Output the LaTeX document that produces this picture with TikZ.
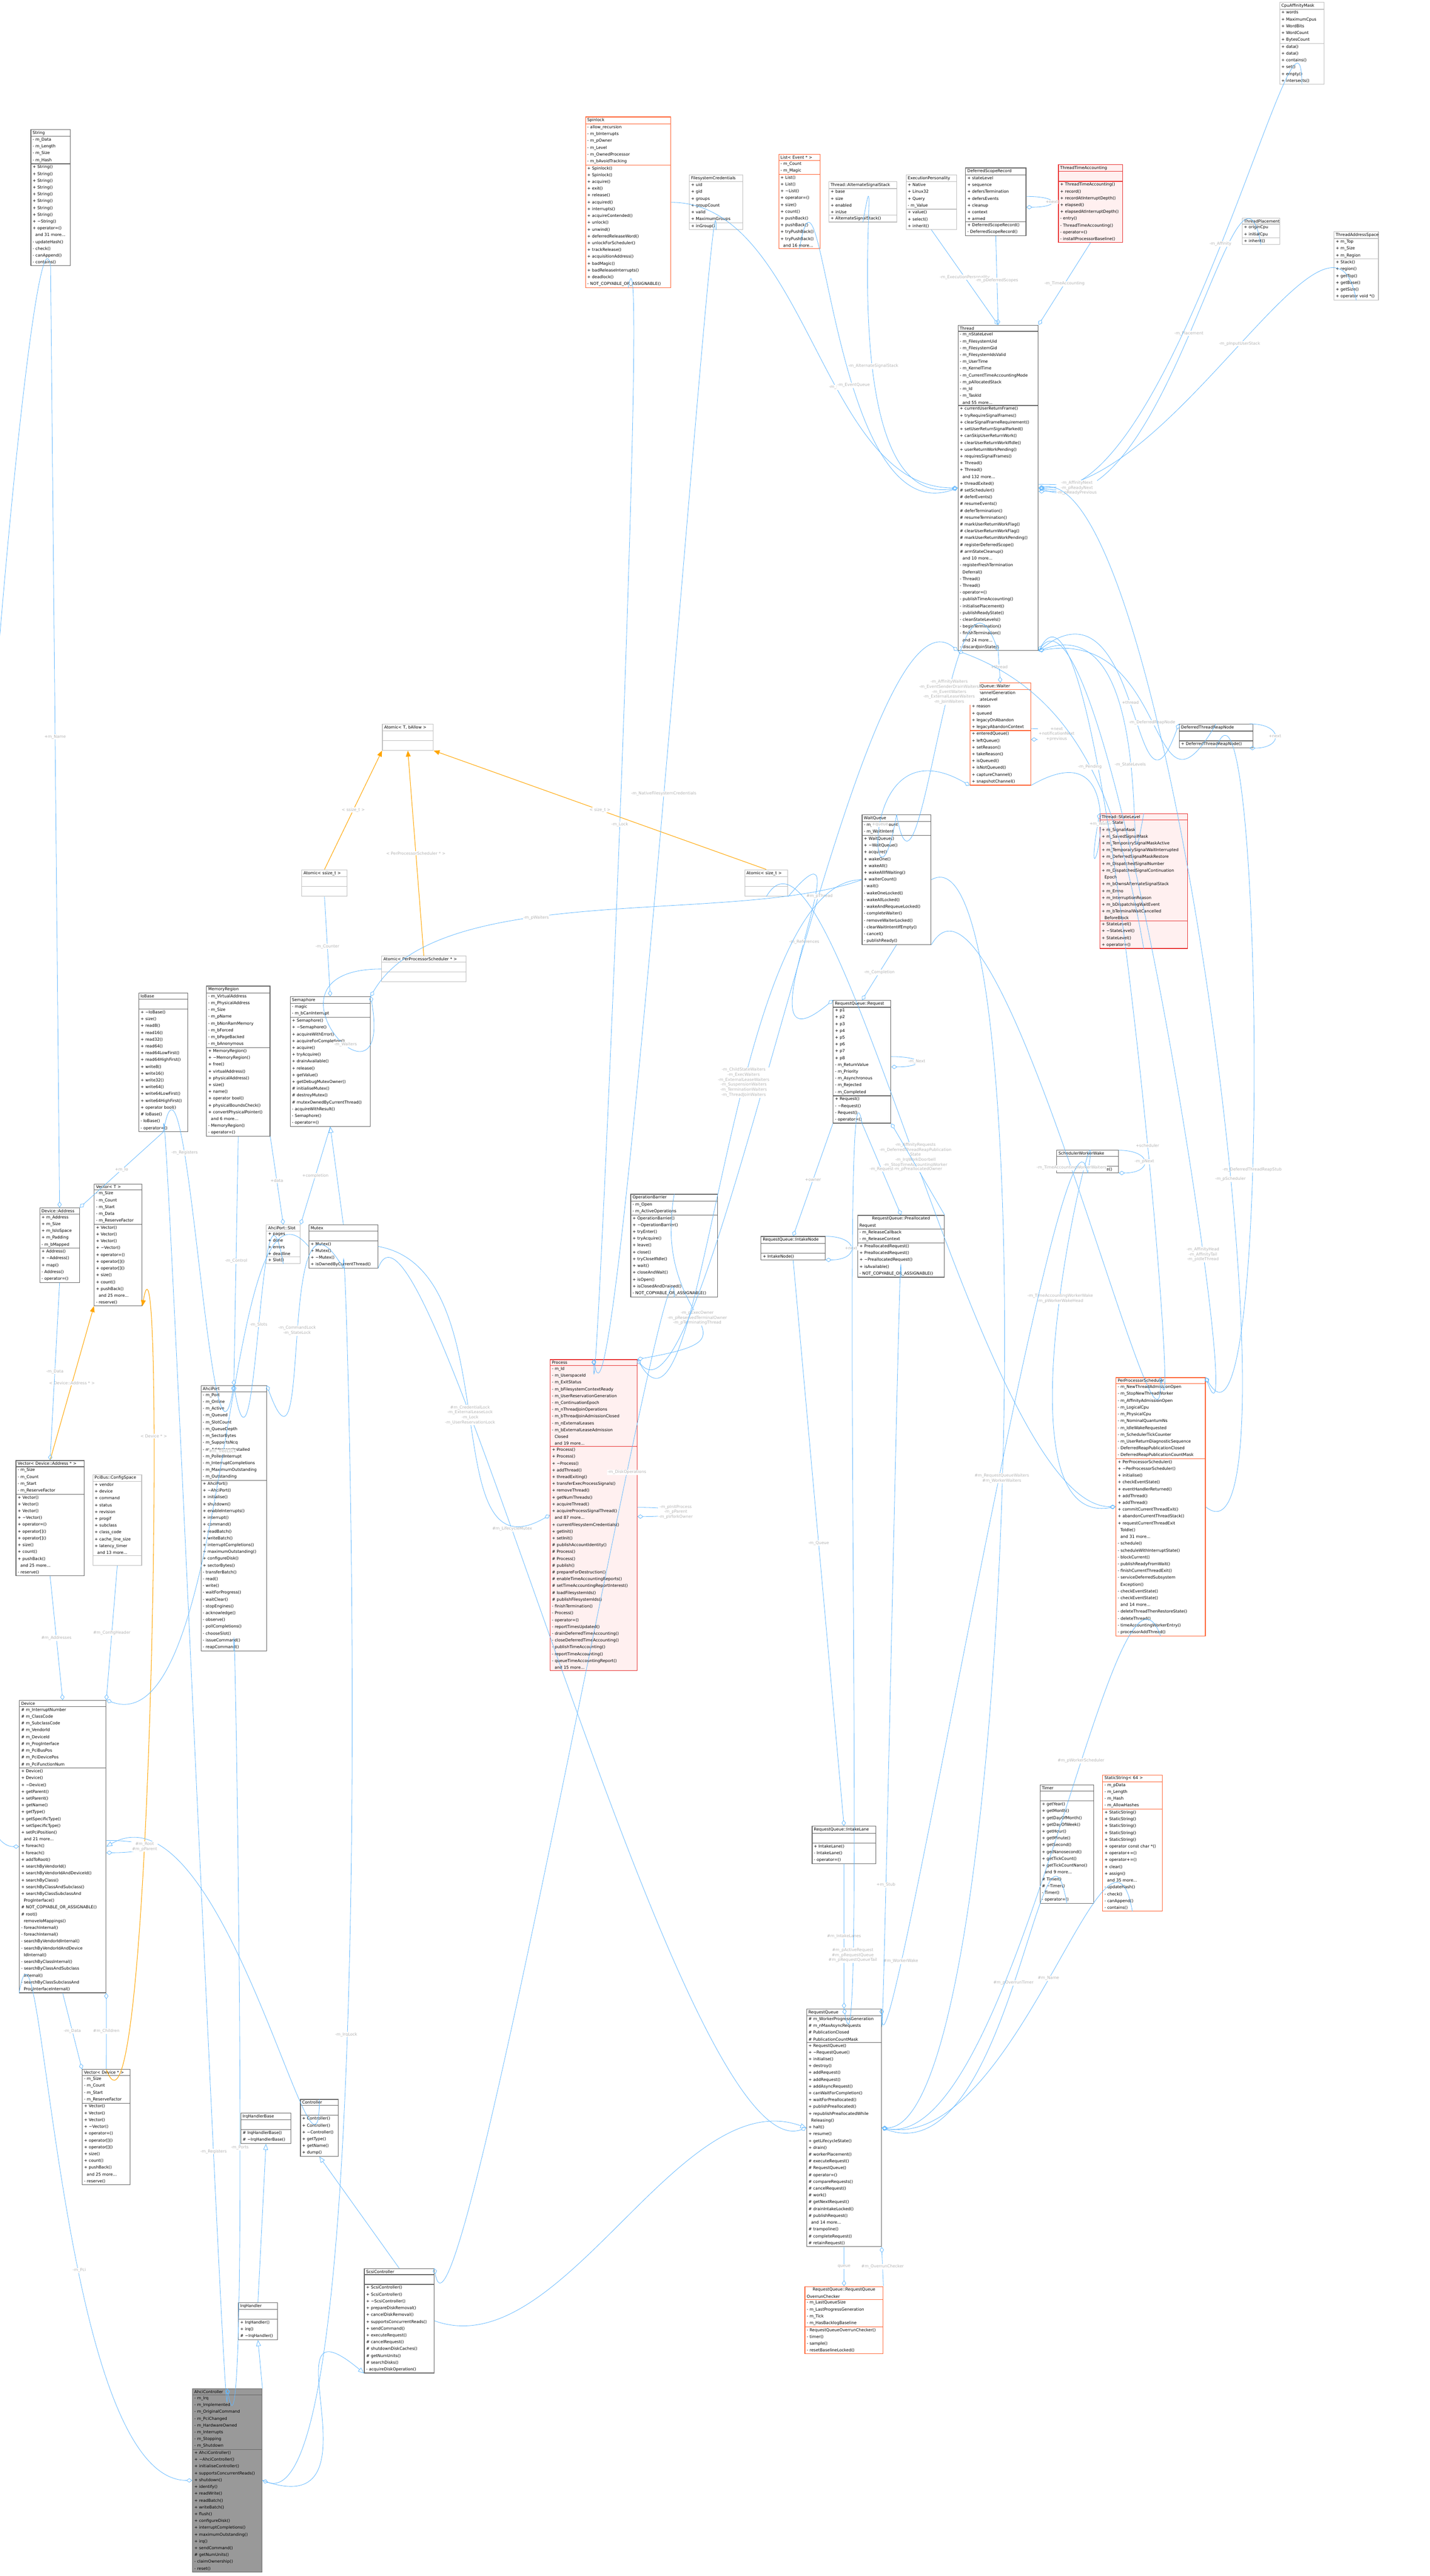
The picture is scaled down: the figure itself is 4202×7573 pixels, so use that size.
\documentclass[tikz,border=0pt]{standalone}
\usepackage{fontspec}
\setmainfont{DejaVu Sans}
\usetikzlibrary{shapes.multipart, arrows.meta, positioning, calc}
\definecolor{edgeblue}{HTML}{63B8FF}
\definecolor{inhorange}{HTML}{FFA500}
\definecolor{lblgrey}{HTML}{B4B4B4}
\definecolor{boxgrey}{HTML}{666666}
\definecolor{boxlight}{HTML}{BFBFBF}
\definecolor{boxred}{HTML}{E83030}
\definecolor{fillred}{HTML}{FFF0F0}
\definecolor{boxorange}{HTML}{FF6030}
\definecolor{fillcore}{HTML}{999999}
\tikzset{
  % class box
  cls/.style={
    rectangle split
    , rectangle split parts=3
    , draw=boxgrey
    , fill=white
    , line width=0.5pt
    , anchor=north west
    , inner xsep=1.5pt
    , inner ysep=1pt
    , align=left
    , text width=#1
    , font=\fontsize{3.4}{5.69}\selectfont
  },
  light/.style={draw=boxlight},
  hot/.style={draw=boxred, fill=fillred},
  warm/.style={draw=boxorange},
  core/.style={draw=boxgrey, fill=fillcore},
  % connectors
  bowlen/.initial=400,
  bow/.style 2 args={to path={.. controls ($(\tikztostart)+(#1:\pgfkeysvalueof{/tikz/bowlen})$) and ($(\tikztotarget)+(#2:\pgfkeysvalueof{/tikz/bowlen})$) .. (\tikztotarget) \tikztonodes}},
  agg/.style={draw=edgeblue, line width=0.35pt, -{Diamond[open, length=5pt, width=3.5pt]}},
  sub/.style={draw=edgeblue, line width=0.35pt, -{Triangle[open, length=5pt, width=4pt]}},
  tmpl/.style={draw=inhorange, line width=0.45pt, -{Triangle[length=5pt, width=4pt]}},
  lbl/.style={text=lblgrey, font=\fontsize{3.4}{4.2}\selectfont, align=center, fill=white, inner sep=0.5pt},
}
\begin{document}
\begin{tikzpicture}[x=0.01cm, y=-0.01cm]
  \useasboundingbox (0,0) rectangle (4202,7573);

  % --- top row ---
  \node[cls=1.05cm] (str) at (90,380) {\centering String
    \nodepart{two}- m\_Data\\- m\_Length\\- m\_Size\\- m\_Hash
    \nodepart{three}+ String()\\+ String()\\+ String()\\+ String()\\+ String()\\+ String()\\+ String()\\+ String()\\+ \textasciitilde String()\\+ operator=()\\\ \ and 31 more...\\- updateHash()\\- check()\\- canAppend()\\- contains()};
  \node[cls=2.4cm, warm] (spin) at (1720,343) {\centering Spinlock
    \nodepart{two}- allow\_recursion\\- m\_bInterrupts\\- m\_pOwner\\- m\_Level\\- m\_OwnedProcessor\\- m\_bAvoidTracking
    \nodepart{three}+ Spinlock()\\+ Spinlock()\\+ acquire()\\+ exit()\\+ release()\\+ acquired()\\+ interrupts()\\+ acquireContended()\\+ unlock()\\+ unwind()\\+ deferredReleaseWord()\\+ unlockForScheduler()\\+ trackRelease()\\+ acquisitionAddress()\\+ badMagic()\\+ badReleaseInterrupts()\\+ deadlock()\\- NOT\_COPYABLE\_OR\_ASSIGNABLE()};
  \node[cls=1.47cm, light] (fscred) at (2025,513) {\centering FilesystemCredentials
    \nodepart{two}+ uid\\+ gid\\+ groups\\+ groupCount\\+ valid\\+ MaximumGroups
    \nodepart{three}+ inGroup()};
  \node[cls=1.11cm, warm] (evlist) at (2288,453) {\centering List< Event * >
    \nodepart{two}- m\_Count\\- m\_Magic
    \nodepart{three}+ List()\\+ List()\\+ \textasciitilde List()\\+ operator=()\\+ size()\\+ count()\\+ pushBack()\\+ pushBack()\\+ tryPushBack()\\+ tryPushBack()\\\ \ and 16 more...};
  \node[cls=1.9cm, light] (altstack) at (2435,533) {\centering Thread::AlternateSignalStack
    \nodepart{two}+ base\\+ size\\+ enabled\\+ inUse
    \nodepart{three}+ AlternateSignalStack()};
  \node[cls=1.38cm, light] (persona) at (2662,513) {\centering ExecutionPersonality
    \nodepart{two}+ Native\\+ Linux32\\+ Query\\- m\_Value
    \nodepart{three}+ value()\\+ select()\\+ inherit()};
  \node[cls=1.67cm] (dscope) at (2837,493) {\centering DeferredScopeRecord
    \nodepart{two}+ stateLevel\\+ sequence\\+ defersTermination\\+ defersEvents\\+ cleanup\\+ context\\+ armed
    \nodepart{three}+ DeferredScopeRecord()\\- DeferredScopeRecord()};
  \node[cls=1.78cm, hot] (ttacct) at (3110,483) {\centering ThreadTimeAccounting
    \nodepart{two}\strut
    \nodepart{three}+ ThreadTimeAccounting()\\+ record()\\+ recordAtInterruptDepth()\\+ elapsed()\\+ elapsedAtInterruptDepth()\\- entry()\\- ThreadTimeAccounting()\\- operator=()\\- installProcessorBaseline()};
  \node[cls=1.2cm, light] (affmask) at (3760,6) {\centering CpuAffinityMask
    \nodepart{two}+ words\\+ MaximumCpus\\+ WordBits\\+ WordCount\\+ BytesCount
    \nodepart{three}+ data()\\+ data()\\+ contains()\\+ set()\\+ empty()\\+ intersects()};
  \node[cls=1.0cm, light] (place) at (3650,640) {\centering ThreadPlacement
    \nodepart{two}+ originCpu\\+ initialCpu
    \nodepart{three}+ inherit()};
  \node[cls=1.2cm, light] (space) at (3920,680) {\centering ThreadAddressSpace
    \nodepart{two}+ m\_Top\\+ m\_Size\\+ m\_Region
    \nodepart{three}+ Stack()\\+ region()\\+ getTop()\\+ getBase()\\+ getSize()\\+ operator void *()};

  % --- thread core ---
  \node[cls=2.25cm] (thr) at (2815,955) {\centering Thread
    \nodepart{two}- m\_nStateLevel\\- m\_FilesystemUid\\- m\_FilesystemGid\\- m\_FilesystemIdsValid\\- m\_UserTime\\- m\_KernelTime\\- m\_CurrentTimeAccountingMode\\- m\_pAllocatedStack\\- m\_Id\\- m\_TaskId\\\ \ and 55 more...
    \nodepart{three}+ currentUserReturnFrame()\\+ tryRequireSignalFrames()\\+ clearSignalFrameRequirement()\\+ setUserReturnSignalParked()\\+ canSkipUserReturnWork()\\+ clearUserReturnWorkIfIdle()\\+ userReturnWorkPending()\\+ requiresSignalFrames()\\+ Thread()\\+ Thread()\\\ \ and 132 more...\\+ threadExited()\\\# setScheduler()\\\# deferEvents()\\\# resumeEvents()\\\# deferTermination()\\\# resumeTermination()\\\# markUserReturnWorkFlag()\\\# clearUserReturnWorkFlag()\\\# markUserReturnWorkPending()\\\# registerDeferredScope()\\\# armStateCleanup()\\\ \ and 10 more...\\- registerFreshTermination\\\ \ Deferral()\\- Thread()\\- Thread()\\- operator=()\\- publishTimeAccounting()\\- initialisePlacement()\\- publishReadyState()\\- cleanStateLevels()\\- beginTermination()\\- finishTermination()\\\ \ and 24 more...\\- discardJoinState()};
  \node[cls=1.68cm, warm] (waiter) at (2850,2007) {\centering WaitQueue::Waiter
    \nodepart{two}+ channelGeneration\\+ stateLevel\\+ reason\\+ queued\\+ legacyOnAbandon\\+ legacyAbandonContext
    \nodepart{three}+ enteredQueue()\\+ leftQueue()\\+ setReason()\\+ takeReason()\\+ isQueued()\\+ isNotQueued()\\+ captureChannel()\\+ snapshotChannel()};
  \node[cls=2.06cm] (reapnode) at (3465,2128) {\centering DeferredThreadReapNode
    \nodepart{two}\strut
    \nodepart{three}+ DeferredThreadReapNode()};
  \node[cls=2.47cm, hot] (stlvl) at (3232,2391) {\centering Thread::StateLevel
    \nodepart{two}+ m\_State\\+ m\_SignalMask\\+ m\_SavedSignalMask\\+ m\_TemporarySignalMaskActive\\+ m\_TemporarySignalWaitInterrupted\\+ m\_DeferredSignalMaskRestore\\+ m\_DispatchedSignalNumber\\+ m\_DispatchedSignalContinuation\\\ \ Epoch\\+ m\_bOwnsAlternateSignalStack\\+ m\_Errno\\+ m\_InterruptionReason\\+ m\_bDispatchingWaitEvent\\+ m\_bTerminalWaitCancelled\\\ \ BeforeBlock
    \nodepart{three}+ StateLevel()\\+ \textasciitilde StateLevel()\\+ StateLevel()\\+ operator=()};

  % --- atomics ---
  \node[cls=1.39cm, light] (atomT) at (1123,2128) {\centering Atomic< T, bAllow >
    \nodepart{two}\strut\nodepart{three}\strut};
  \node[cls=1.23cm, light] (atomS) at (886,2556) {\centering Atomic< ssize\_t >
    \nodepart{two}\strut\nodepart{three}\strut};
  \node[cls=2.37cm, light] (atomP) at (1121,2810) {\centering Atomic< PerProcessorScheduler * >
    \nodepart{two}\strut\nodepart{three}\strut};
  \node[cls=1.16cm, light] (atomZ) at (2188,2556) {\centering Atomic< size\_t >
    \nodepart{two}\strut\nodepart{three}\strut};

  % --- middle ---
  \node[cls=1.34cm] (iobase) at (407,2919) {\centering IoBase
    \nodepart{two}\strut
    \nodepart{three}+ \textasciitilde IoBase()\\+ size()\\+ read8()\\+ read16()\\+ read32()\\+ read64()\\+ read64LowFirst()\\+ read64HighFirst()\\+ write8()\\+ write16()\\+ write32()\\+ write64()\\+ write64LowFirst()\\+ write64HighFirst()\\+ operator bool()\\\# IoBase()\\- IoBase()\\- operator=()};
  \node[cls=1.76cm] (memreg) at (606,2898) {\centering MemoryRegion
    \nodepart{two}- m\_VirtualAddress\\- m\_PhysicalAddress\\- m\_Size\\- m\_pName\\- m\_bNonRamMemory\\- m\_bForced\\- m\_bPageBacked\\- m\_bAnonymous
    \nodepart{three}+ MemoryRegion()\\+ \textasciitilde MemoryRegion()\\+ free()\\+ virtualAddress()\\+ physicalAddress()\\+ size()\\+ name()\\+ operator bool()\\+ physicalBoundsCheck()\\+ convertPhysicalPointer()\\\ \ and 6 more...\\- MemoryRegion()\\- operator=()};
  \node[cls=2.25cm] (sema) at (852,2929) {\centering Semaphore
    \nodepart{two}- magic\\- m\_bCanInterrupt
    \nodepart{three}+ Semaphore()\\+ \textasciitilde Semaphore()\\+ acquireWithError()\\+ acquireForCompletion()\\+ acquire()\\+ tryAcquire()\\+ drainAvailable()\\+ release()\\+ getValue()\\+ getDebugMutexOwner()\\\# initialiseMutex()\\\# destroyMutex()\\\# mutexOwnedByCurrentThread()\\- acquireWithResult()\\- Semaphore()\\- operator=()};
  \node[cls=1.06cm] (daddr) at (116,3550) {\centering Device::Address
    \nodepart{two}+ m\_Address\\+ m\_Size\\+ m\_IsIoSpace\\+ m\_Padding\\- m\_bMapped
    \nodepart{three}+ Address()\\+ \textasciitilde Address()\\+ map()\\- Address()\\- operator=()};
  \node[cls=1.3cm] (vecT) at (276,3480) {\centering Vector< T >
    \nodepart{two}- m\_Size\\- m\_Count\\- m\_Start\\- m\_Data\\- m\_ReserveFactor
    \nodepart{three}+ Vector()\\+ Vector()\\+ Vector()\\+ \textasciitilde Vector()\\+ operator=()\\+ operator[]()\\+ operator[]()\\+ size()\\+ count()\\+ pushBack()\\\ \ and 25 more...\\- reserve()};
  \node[cls=0.89cm, light] (slot) at (782,3600) {\centering AhciPort::Slot
    \nodepart{two}+ pages\\+ done\\+ errors\\+ deadline
    \nodepart{three}+ Slot()};
  \node[cls=1.92cm] (mtx) at (907,3600) {\centering Mutex
    \nodepart{two}\strut
    \nodepart{three}+ Mutex()\\+ Mutex()\\+ \textasciitilde Mutex()\\+ isOwnedByCurrentThread()};
  \node[cls=1.9cm] (vecA) at (46,4293) {\centering Vector< Device::Address * >
    \nodepart{two}- m\_Size\\- m\_Count\\- m\_Start\\- m\_ReserveFactor
    \nodepart{three}+ Vector()\\+ Vector()\\+ Vector()\\+ \textasciitilde Vector()\\+ operator=()\\+ operator[]()\\+ operator[]()\\+ size()\\+ count()\\+ pushBack()\\\ \ and 25 more...\\- reserve()};
  \node[cls=1.33cm, light] (cfg) at (272,4334) {\centering PciBus::ConfigSpace
    \nodepart{two}+ vendor\\+ device\\+ command\\+ status\\+ revision\\+ progif\\+ subclass\\+ class\_code\\+ cache\_line\_size\\+ latency\_timer\\\ \ and 13 more...
    \nodepart{three}\strut};
  \node[cls=1.82cm] (port) at (590,4073) {\centering AhciPort
    \nodepart{two}- m\_Port\\- m\_Online\\- m\_Active\\- m\_Queued\\- m\_SlotCount\\- m\_QueueDepth\\- m\_SectorBytes\\- m\_SupportsNcq\\- m\_AddressesInstalled\\- m\_PolledInterrupt\\- m\_InterruptCompletions\\- m\_MaximumOutstanding\\- m\_Outstanding
    \nodepart{three}+ AhciPort()\\+ \textasciitilde AhciPort()\\+ initialise()\\+ shutdown()\\+ enableInterrupts()\\+ interrupt()\\+ command()\\+ readBatch()\\+ writeBatch()\\+ interruptCompletions()\\+ maximumOutstanding()\\+ configureDisk()\\+ sectorBytes()\\- transferBatch()\\- read()\\- write()\\- waitForProgress()\\- waitClear()\\- stopEngines()\\- acknowledge()\\- observe()\\- pollCompletions()\\- chooseSlot()\\- issueCommand()\\- reapCommand()};
  \node[cls=2.45cm, hot] (proc) at (1616,3996) {\centering Process
    \nodepart{two}- m\_Id\\- m\_UserspaceId\\- m\_ExitStatus\\- m\_bFilesystemContextReady\\- m\_UserReservationGeneration\\- m\_ContinuationEpoch\\- m\_nThreadJoinOperations\\- m\_bThreadJoinAdmissionClosed\\- m\_nExternalLeases\\- m\_bExternalLeaseAdmission\\\ \ Closed\\\ \ and 19 more...
    \nodepart{three}+ Process()\\+ Process()\\+ \textasciitilde Process()\\+ addThread()\\+ threadExiting()\\+ transferExecProcessSignals()\\+ removeThread()\\+ getNumThreads()\\+ acquireThread()\\+ acquireProcessSignalThread()\\\ \ and 87 more...\\+ currentFilesystemCredentials()\\+ getInit()\\+ setInit()\\\# publishAccountIdentity()\\\# Process()\\\# Process()\\\# publish()\\\# prepareForDestruction()\\\# enableTimeAccountingReports()\\\# setTimeAccountingReportInterest()\\\# loadFilesystemIds()\\\# publishFilesystemIds()\\- finishTermination()\\- Process()\\- operator=()\\- reportTimesUpdated()\\- drainDeferredTimeAccounting()\\- closeDeferredTimeAccounting()\\- publishTimeAccounting()\\- reportTimeAccounting()\\- queueTimeAccountingReport()\\\ \ and 15 more...};
  \node[cls=1.92cm] (wq) at (2533,2395) {\centering WaitQueue
    \nodepart{two}- m\_WaiterCount\\- m\_WaitIntent
    \nodepart{three}+ WaitQueue()\\+ \textasciitilde WaitQueue()\\+ acquire()\\+ wakeOne()\\+ wakeAll()\\+ wakeAllIfWaiting()\\+ waiterCount()\\- wait()\\- wakeOneLocked()\\- wakeAllLocked()\\- wakeAndRequeueLocked()\\- completeWaiter()\\- removeWaiterLocked()\\- clearWaitIntentIfEmpty()\\- cancel()\\- publishReady()};
  \node[cls=1.59cm] (req) at (2448,2940) {\centering RequestQueue::Request
    \nodepart{two}+ p1\\+ p2\\+ p3\\+ p4\\+ p5\\+ p6\\+ p7\\+ p8\\- m\_ReturnValue\\- m\_Priority\\- m\_Asynchronous\\- m\_Rejected\\- m\_Completed
    \nodepart{three}+ Request()\\- \textasciitilde Request()\\- Request()\\- operator=()};
  \node[cls=2.45cm] (opbar) at (1853,3510) {\centering OperationBarrier
    \nodepart{two}- m\_Open\\- m\_ActiveOperations
    \nodepart{three}+ OperationBarrier()\\+ \textasciitilde OperationBarrier()\\+ tryEnter()\\+ tryAcquire()\\+ leave()\\+ close()\\+ tryCloseIfIdle()\\+ wait()\\+ closeAndWait()\\+ isOpen()\\+ isClosedAndDrained()\\- NOT\_COPYABLE\_OR\_ASSIGNABLE()};
  \node[cls=1.78cm] (inode) at (2236,3634) {\centering RequestQueue::IntakeNode
    \nodepart{two}\strut
    \nodepart{three}+ IntakeNode()};
  \node[cls=2.44cm] (prealloc) at (2520,3572) {\centering RequestQueue::Preallocated\\Request
    \nodepart{two}- m\_ReleaseCallback\\- m\_ReleaseContext
    \nodepart{three}+ PreallocatedRequest()\\+ PreallocatedRequest()\\+ \textasciitilde PreallocatedRequest()\\+ isAvailable()\\- NOT\_COPYABLE\_OR\_ASSIGNABLE()};
  \node[cls=1.71cm] (wake) at (3105,3381) {\centering SchedulerWorkerWake
    \nodepart{two}\strut
    \nodepart{three}+ SchedulerWorkerWake()};
  \node[cls=2.52cm, warm] (pps) at (3279,4049) {\centering PerProcessorScheduler
    \nodepart{two}- m\_NewThreadAdmissionOpen\\- m\_StopNewThreadWorker\\- m\_AffinityAdmissionOpen\\- m\_LogicalCpu\\- m\_PhysicalCpu\\- m\_NominalQuantumNs\\- m\_IdleWakeRequested\\- m\_SchedulerTickCounter\\- m\_UserReturnDiagnosticSequence\\- DeferredReapPublicationClosed\\- DeferredReapPublicationCountMask
    \nodepart{three}+ PerProcessorScheduler()\\+ \textasciitilde PerProcessorScheduler()\\+ initialise()\\+ checkEventState()\\+ eventHandlerReturned()\\+ addThread()\\+ addThread()\\+ commitCurrentThreadExit()\\+ abandonCurrentThreadStack()\\+ requestCurrentThreadExit\\\ \ ToIdle()\\\ \ and 31 more...\\- schedule()\\- scheduleWithInterruptState()\\- blockCurrent()\\- publishReadyFromWait()\\- finishCurrentThreadExit()\\- serviceDeferredSubsystem\\\ \ Exception()\\- checkEventState()\\- checkEventState()\\\ \ and 14 more...\\- deleteThreadThenRestoreState()\\- deleteThread()\\- timeAccountingWorkerEntry()\\- processorAddThread()};

  % --- lower right ---
  \node[cls=1.77cm] (lane) at (2386,5368) {\centering RequestQueue::IntakeLane
    \nodepart{two}\strut
    \nodepart{three}+ IntakeLane()\\- IntakeLane()\\- operator=()};
  \node[cls=1.47cm] (timer) at (3056,5247) {\centering Timer
    \nodepart{two}\strut
    \nodepart{three}+ getYear()\\+ getMonth()\\+ getDayOfMonth()\\+ getDayOfWeek()\\+ getHour()\\+ getMinute()\\+ getSecond()\\+ getNanosecond()\\+ getTickCount()\\+ getTickCountNano()\\\ \ and 9 more...\\\# Timer()\\\# \textasciitilde Timer()\\- Timer()\\- operator=()};
  \node[cls=1.64cm, warm] (sstr) at (3240,5217) {\centering StaticString< 64 >
    \nodepart{two}- m\_pData\\- m\_Length\\- m\_Hash\\- m\_AllowHashes
    \nodepart{three}+ StaticString()\\+ StaticString()\\+ StaticString()\\+ StaticString()\\+ StaticString()\\+ operator const char *()\\+ operator+=()\\+ operator+=()\\+ clear()\\+ assign()\\\ \ and 35 more...\\- updateHash()\\- check()\\- canAppend()\\- contains()};
  \node[cls=2.09cm] (rq) at (2370,5905) {\centering RequestQueue
    \nodepart{two}\# m\_WorkerProgressGeneration\\\# m\_nMaxAsyncRequests\\\# PublicationClosed\\\# PublicationCountMask
    \nodepart{three}+ RequestQueue()\\+ \textasciitilde RequestQueue()\\+ initialise()\\+ destroy()\\+ addRequest()\\+ addRequest()\\+ addAsyncRequest()\\+ canWaitForCompletion()\\+ waitForPreallocated()\\+ publishPreallocated()\\+ republishPreallocatedWhile\\\ \ Releasing()\\+ halt()\\+ resume()\\+ getLifecycleState()\\+ drain()\\\# workerPlacement()\\\# executeRequest()\\\# RequestQueue()\\\# operator=()\\\# compareRequests()\\\# cancelRequest()\\\# work()\\\# getNextRequest()\\\# drainIntakeLocked()\\\# publishRequest()\\\ \ and 14 more...\\\# trampoline()\\\# completeRequest()\\\# retainRequest()};
  \node[cls=2.19cm, warm] (overrun) at (2365,6721) {\centering RequestQueue::RequestQueue\\OverrunChecker
    \nodepart{two}- m\_LastQueueSize\\- m\_LastProgressGeneration\\- m\_Tick\\- m\_HasBacklogBaseline
    \nodepart{three}- RequestQueueOverrunChecker()\\- timer()\\- sample()\\- resetBaselineLocked()};

  % --- lower left ---
  \node[cls=2.44cm] (dev) at (56,4998) {\centering Device
    \nodepart{two}\# m\_InterruptNumber\\\# m\_ClassCode\\\# m\_SubclassCode\\\# m\_VendorId\\\# m\_DeviceId\\\# m\_ProgInterface\\\# m\_PciBusPos\\\# m\_PciDevicePos\\\# m\_PciFunctionNum
    \nodepart{three}+ Device()\\+ Device()\\+ \textasciitilde Device()\\+ getParent()\\+ setParent()\\+ getName()\\+ getType()\\+ getSpecificType()\\+ setSpecificType()\\+ setPciPosition()\\\ \ and 21 more...\\+ foreach()\\+ foreach()\\+ addToRoot()\\+ searchByVendorId()\\+ searchByVendorIdAndDeviceId()\\+ searchByClass()\\+ searchByClassAndSubclass()\\+ searchByClassSubclassAnd\\\ \ ProgInterface()\\\# NOT\_COPYABLE\_OR\_ASSIGNABLE()\\\# root()\\\ \ removeIoMappings()\\- foreachInternal()\\- foreachInternal()\\- searchByVendorIdInternal()\\- searchByVendorIdAndDevice\\\ \ IdInternal()\\- searchByClassInternal()\\- searchByClassAndSubclass\\\ \ Internal()\\- searchByClassSubclassAnd\\\ \ ProgInterfaceInternal()};
  \node[cls=1.3cm] (vecD) at (241,6083) {\centering Vector< Device * >
    \nodepart{two}- m\_Size\\- m\_Count\\- m\_Start\\- m\_ReserveFactor
    \nodepart{three}+ Vector()\\+ Vector()\\+ Vector()\\+ \textasciitilde Vector()\\+ operator=()\\+ operator[]()\\+ operator[]()\\+ size()\\+ count()\\+ pushBack()\\\ \ and 25 more...\\- reserve()};
  \node[cls=1.37cm] (irqbase) at (707,6211) {\centering IrqHandlerBase
    \nodepart{two}\strut
    \nodepart{three}\# IrqHandlerBase()\\\# \textasciitilde IrqHandlerBase()};
  \node[cls=1.01cm] (ctrl) at (882,6171) {\centering Controller
    \nodepart{two}\strut
    \nodepart{three}+ Controller()\\+ Controller()\\+ \textasciitilde Controller()\\+ getType()\\+ getName()\\+ dump()};
  \node[cls=1.04cm] (irq) at (700,6768) {\centering IrqHandler
    \nodepart{two}\strut
    \nodepart{three}+ IrqHandler()\\+ irq()\\\# \textasciitilde IrqHandler()};
  \node[cls=1.94cm] (scsi) at (1070,6668) {\centering ScsiController
    \nodepart{two}\strut
    \nodepart{three}+ ScsiController()\\+ ScsiController()\\+ \textasciitilde ScsiController()\\+ prepareDiskRemoval()\\+ cancelDiskRemoval()\\+ supportsConcurrentReads()\\+ sendCommand()\\+ executeRequest()\\\# cancelRequest()\\\# shutdownDiskCaches()\\\# getNumUnits()\\\# searchDisks()\\- acquireDiskOperation()};
  \node[cls=1.94cm, core] (ahci) at (565,7022) {\centering AhciController
    \nodepart{two}- m\_Irq\\- m\_Implemented\\- m\_OriginalCommand\\- m\_PciChanged\\- m\_HardwareOwned\\- m\_Interrupts\\- m\_Stopping\\- m\_Shutdown
    \nodepart{three}+ AhciController()\\+ \textasciitilde AhciController()\\+ initialiseController()\\+ supportsConcurrentReads()\\+ shutdown()\\+ identify()\\+ readWrite()\\+ readBatch()\\+ writeBatch()\\+ flush()\\+ configureDisk()\\+ interruptCompletions()\\+ maximumOutstanding()\\+ irq()\\+ sendCommand()\\\# getNumUnits()\\- claimOwnership()\\- reset()};

  % --- templates ---
  \draw[tmpl] (atomS.north) -- node[lbl]{< ssize\_t >} (atomT.south west);
  \draw[tmpl] (atomP.north) -- node[lbl]{< PerProcessorScheduler * >} (atomT.south);
  \draw[tmpl] (atomZ.north) -- node[lbl]{< size\_t >} (atomT.south east);
  \draw[tmpl] (vecA.north) -- node[lbl]{< Device::Address * >} (vecT.south west);
  \draw[tmpl] (vecD.north) to[bow={70}{-80}] node[lbl, pos=0.7]{< Device * >} (vecT.south east);

  % --- inheritance ---
  \draw[sub] (mtx.north) -- (sema.south);
  \draw[sub] (ctrl.north) to[bow={90}{-30}] (dev.east);
  \draw[sub] (irq.north) -- (irqbase.south);
  \draw[sub] (scsi.north) -- (ctrl.south);
  \draw[sub] (ahci.north east) -- (irq.south);
  \draw[sub] (ahci.east) to[bow={20}{-140}] (scsi.south west);
  \draw[sub] (scsi.east) to[bow={20}{-160}] (rq.west);

  % --- members ---
  \draw[agg] (str.south) to[bow={-100}{180}] node[lbl, pos=0.6]{\#m\_SpecificType} (dev.west);
  \draw[agg] (str.south) -- node[lbl]{+m\_Name} (daddr.north);
  \draw[agg] (iobase.south) -- node[lbl]{+m\_Io} (daddr.north east);
  \draw[agg] (iobase.south) to[bow={-80}{100}] node[lbl, pos=0.3]{-m\_Registers} (port.north);
  \draw[agg] (memreg.south) -- node[lbl]{-m\_Control} (port.north);
  \draw[agg] (memreg.south east) -- node[lbl]{+data} (slot.north);
  \draw[agg] (sema.south) -- node[lbl]{+completion} (slot.north east);
  \draw[agg] (slot.south) to[bow={-100}{80}] node[lbl]{-m\_Slots} (port.north);
  \draw[agg] (mtx.south) to[bow={-120}{70}] node[lbl]{-m\_CommandLock\\-m\_StateLock} (port.north east);
  \draw[agg] (atomS.south) -- node[lbl]{-m\_Counter} (sema.north);
  \draw[agg] (atomP.west) to[bow={180}{80}] node[lbl, pos=0.6]{-m\_Waiters} (sema.north east);
  \draw[agg] (daddr.south) -- node[lbl]{-m\_Data} (vecA.north);
  \draw[agg] (vecA.south) -- node[lbl]{\#m\_Addresses} (dev.north);
  \draw[agg] (cfg.south) -- node[lbl]{\#m\_ConfigHeader} (dev.north east);
  \draw[agg] (dev.8) to[bow={0}{0}, bowlen=150] node[lbl]{\#m\_Root\\\#m\_pParent} (dev.-8);
  \draw[agg] (dev.south) -- node[lbl]{-m\_Data} (vecD.north west);
  \draw[agg] (vecD.north) -- node[lbl]{\#m\_Children} (dev.south east);
  \draw[agg] (dev.south west) to[bow={-80}{180}] node[lbl, pos=0.6]{-m\_Pci} (ahci.west);
  \draw[agg] (iobase.south) to[bow={-90}{90}] node[lbl, pos=0.7]{-m\_Registers} (ahci.north);
  \draw[agg] (port.south) to[bow={-90}{80}] node[lbl, pos=0.6]{-m\_Ports} (ahci.north);
  \draw[agg] (mtx.south) to[bow={-90}{20}] node[lbl, pos=0.6]{-m\_IrqLock} (ahci.east);
  \draw[agg] (mtx.west) to[bow={-130}{20}] node[lbl, pos=0.5]{\#m\_TreeLock} (dev.north east);
  \draw[agg] (mtx.south east) to[bow={-70}{160}] node[lbl, pos=0.4]{\#m\_LifecycleMutex} (rq.west);

  \draw[agg] (spin.south) to[bow={-80}{90}] node[lbl, pos=0.5]{-m\_Lock} (proc.north);
  \draw[agg] (spin.east) to[bow={0}{180}] node[lbl, pos=0.6]{-m\_Lock} (thr.west);
  \draw[agg] (fscred.south) to[bow={-90}{80}] node[lbl, pos=0.5]{-m\_NativeFilesystemCredentials} (proc.north);
  \draw[agg] (evlist.south) to[bow={-80}{160}] node[lbl, pos=0.6]{-m\_EventQueue} (thr.west);
  \draw[agg] (altstack.south) to[bow={-80}{170}] node[lbl, pos=0.6]{-m\_AlternateSignalStack} (thr.west);
  \draw[agg] (persona.south) -- node[lbl]{-m\_ExecutionPersonality} (thr.north);
  \draw[agg] (dscope.south) -- node[lbl]{-m\_pDeferredScopes} (thr.north);
  \draw[agg] (dscope.10) to[bow={0}{0}, bowlen=100] node[lbl]{+next} (dscope.-10);
  \draw[agg] (ttacct.south) -- node[lbl]{-m\_TimeAccounting} (thr.north east);
  \draw[agg] (place.south) to[bow={-100}{20}] node[lbl]{-m\_Placement} (thr.east);
  \draw[agg] (affmask.south) to[bow={-90}{10}] node[lbl]{-m\_Affinity} (thr.east);
  \draw[agg] (space.south) to[bow={-100}{0}] node[lbl]{-m\_pInputUserStack} (thr.east);
  \draw[agg] (thr.5) to[bow={0}{0}, bowlen=150] node[lbl]{-m\_AffinityNext\\-m\_pReadyNext\\-m\_pReadyPrevious} (thr.-5);
  \draw[agg] (thr.south) -- node[lbl]{+thread} (waiter.north);
  \draw[agg] (waiter.10) to[bow={0}{0}, bowlen=100] node[lbl]{+next\\+notificationNext\\+previous} (waiter.-10);
  \draw[agg] (waiter.south east) to[bow={-30}{100}] node[lbl]{+m\_Waiter} (stlvl.north west);
  \draw[agg] (stlvl.north) to[bow={100}{-20}] node[lbl]{-m\_StateLevels} (thr.south east);
  \draw[agg] (wq.north) to[bow={100}{-150}] node[lbl]{+queue} (waiter.south west);
  \draw[agg] (thr.south east) to[bow={-40}{110}] node[lbl]{+thread} (reapnode.north west);
  \draw[agg] (reapnode.north) to[bow={120}{-10}] node[lbl]{-m\_DeferredReapNode} (thr.south east);
  \draw[agg] (reapnode.20) to[bow={0}{0}, bowlen=100] node[lbl]{+next} (reapnode.-20);
  \draw[agg] (wq.north) to[bow={80}{-110}] node[lbl, pos=0.6]{-m\_AffinityWaiters\\-m\_EventSenderDrainWaiters\\-m\_EventWaiters\\-m\_ExternalLeaseWaiters\\-m\_JoinWaiters} (thr.south);
  \draw[agg] (reapnode.south) to[bow={-70}{60}] node[lbl, pos=0.6]{-m\_DeferredThreadReapStub} (pps.north east);
  \draw[agg] (thr.south east) to[bow={-60}{70}] node[lbl, pos=0.7]{-m\_AffinityHead\\-m\_AffinityTail\\-m\_pIdleThread} (pps.north east);
  \draw[agg] (pps.east) to[bow={40}{-10}] node[lbl, pos=0.4]{-m\_pScheduler} (thr.east);
  \draw[agg] (pps.north) to[bow={80}{-60}] node[lbl, pos=0.4]{+scheduler} (thr.south east);
  \draw[agg] (stlvl.south) to[bow={-100}{20}] node[lbl]{-m\_Pending} (thr.south west);
  \draw[agg] (wq.west) to[bow={160}{-60}] node[lbl, pos=0.6]{-m\_pWaiters} (sema.north east);

  \draw[agg] (wake.20) to[bow={0}{0}, bowlen=100] node[lbl]{-m\_pNext} (wake.-20);
  \draw[agg] (wake.south) to[bow={-80}{170}] node[lbl]{-m\_TimeAccountingWorkerWake\\-m\_pWorkerWakeHead} (pps.west);
  \draw[agg] (wq.south east) to[bow={-60}{90}] node[lbl, pos=0.5]{-m\_TimeAccountingWorkerWaiters} (pps.north);
  \draw[agg] (atomZ.south) to[bow={-60}{180}] node[lbl, pos=0.5]{-m\_AffinityRequests\\-m\_DeferredThreadReapPublication\\State\\-m\_IrqWorkDoorbell\\-m\_StopTimeAccountingWorker\\-m\_nDeferredThreadReaps} (pps.west);
  \draw[agg] (wq.south) -- node[lbl]{-m\_Completion} (req.north);
  \draw[agg] (atomZ.south east) to[bow={-50}{140}] node[lbl]{-m\_References} (req.north west);
  \draw[agg] (req.10) to[bow={0}{0}, bowlen=100] node[lbl]{-m\_Next} (req.-10);
  \draw[agg] (req.south) -- node[lbl]{-m\_Request} (prealloc.north);
  \draw[agg] (prealloc.north east) -- node[lbl]{-m\_pPreallocatedOwner} (req.south east);
  \draw[agg] (req.south west) -- node[lbl]{+owner} (inode.north);
  \draw[agg] (inode.20) to[bow={0}{0}, bowlen=100] node[lbl]{+next} (inode.-20);
  \draw[agg] (inode.south) -- node[lbl]{-m\_Queue} (lane.north);
  \draw[agg] (lane.south) -- node[lbl]{\#m\_IntakeLanes} (rq.north);
  \draw[agg] (timer.south) to[bow={-100}{20}] node[lbl]{\#m\_pOverrunTimer} (rq.east);
  \draw[agg] (sstr.south) to[bow={-100}{10}] node[lbl]{\#m\_Name} (rq.east);
  \draw[agg] (rq.south) -- node[lbl]{queue} (overrun.north);
  \draw[agg] (overrun.north east) -- node[lbl]{\#m\_OverrunChecker} (rq.south east);
  \draw[agg] (wake.south) to[bow={-100}{90}] node[lbl, pos=0.8]{\#m\_WorkerWake} (rq.north east);
  \draw[agg] (pps.south) to[bow={-110}{10}] node[lbl, pos=0.4]{\#m\_pWorkerScheduler} (rq.east);
  \draw[agg] (req.south) to[bow={-100}{80}] node[lbl, pos=0.8]{\#m\_pActiveRequest\\\#m\_pRequestQueue\\\#m\_pRequestQueueTail} (rq.north);
  \draw[agg] (prealloc.south) to[bow={-90}{90}] node[lbl, pos=0.7]{+m\_Stub} (rq.north east);
  \draw[agg] (wq.east) to[bow={-30}{0}] node[lbl, pos=0.5]{\#m\_RequestQueueWaiters\\\#m\_WorkerWaiters} (rq.east);

  \draw[agg] (opbar.north) to[bow={100}{-10}] node[lbl, pos=0.5]{-m\_pExecOwner\\-m\_pReservedTerminalOwner\\-m\_pTerminatingThread} (proc.north east);
  \draw[agg] (proc.north east) to[bow={60}{-140}] node[lbl, pos=0.6]{\#m\_pThread} (thr.south west);
  \draw[agg] (proc.10) to[bow={0}{0}, bowlen=150] node[lbl]{-m\_pInitProcess\\-m\_pParent\\-m\_pVforkOwner} (proc.-2);
  \draw[agg] (wq.west) to[bow={180}{60}] node[lbl, pos=0.4]{-m\_ChildStateWaiters\\-m\_ExecWaiters\\-m\_ExternalLeaseWaiters\\-m\_SuspensionWaiters\\-m\_TerminationWaiters\\-m\_ThreadJoinWaiters} (proc.north east);
  \draw[agg] (opbar.south) to[bow={-90}{80}] node[lbl, pos=0.3]{-m\_DiskOperations} (scsi.north east);
  \draw[agg] (mtx.east) to[bow={10}{150}] node[lbl, pos=0.5]{\#m\_CredentialLock\\-m\_ExternalLeaseLock\\-m\_Lock\\-m\_UserReservationLock} (proc.west);
\end{tikzpicture}
\end{document}
